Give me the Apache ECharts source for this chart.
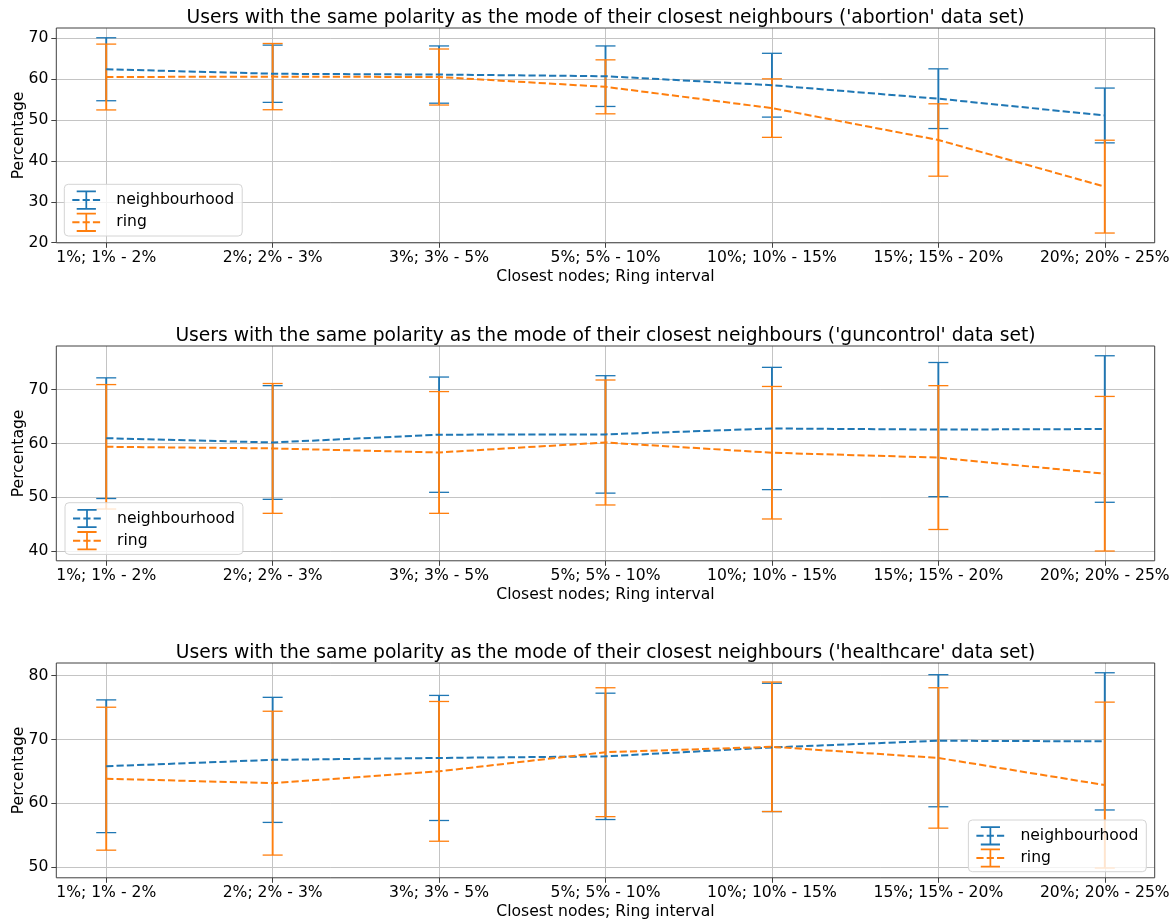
<!DOCTYPE html>
<html><head><meta charset="utf-8">
<script src="https://cdn.jsdelivr.net/npm/echarts@6/dist/echarts.min.js"></script>
<style>html,body{margin:0;padding:0;background:#fff}#c{width:1176px;height:921px}</style>
</head><body><div id="c"></div>
<script>
// ---- data ----
const categories = ['1%; 1% - 2%', '2%; 2% - 3%', '3%; 3% - 5%', '5%; 5% - 10%', '10%; 10% - 15%', '15%; 15% - 20%', '20%; 20% - 25%'];
const xTickValues = [0, 1, 2, 3, 4, 5, 6];

const abortionNbMean   = [62.4, 61.3, 61.1, 60.7, 58.5, 55.2, 51.1];
const abortionNbErr    = [7.7, 7.0, 7.0, 7.4, 7.8, 7.3, 6.7];
const abortionRingMean = [60.5, 60.6, 60.5, 58.1, 52.9, 45.1, 33.7];
const abortionRingErr  = [8.05, 8.1, 6.85, 6.6, 7.15, 8.85, 11.35];
const abortionYTicks   = [20, 30, 40, 50, 60, 70];

const gunNbMean   = [61.0, 60.2, 61.65, 61.7, 62.8, 62.6, 62.7];
const gunNbErr    = [11.2, 10.55, 10.7, 10.9, 11.35, 12.45, 13.6];
const gunRingMean = [59.4, 59.1, 58.35, 60.2, 58.3, 57.4, 54.4];
const gunRingErr  = [11.55, 12.05, 11.3, 11.6, 12.3, 13.35, 14.35];
const gunYTicks   = [40, 50, 60, 70];

const healthNbMean   = [65.8, 66.8, 67.1, 67.35, 68.75, 69.8, 69.7];
const healthNbErr    = [10.4, 9.8, 9.8, 9.9, 10.05, 10.35, 10.75];
const healthRingMean = [63.85, 63.15, 65.0, 68.0, 68.85, 67.1, 62.85];
const healthRingErr  = [11.2, 11.27, 10.95, 10.1, 10.15, 11.0, 13.0];
const healthYTicks   = [50, 60, 70, 80];

const titles = [
  "Users with the same polarity as the mode of their closest neighbours ('abortion' data set)",
  "Users with the same polarity as the mode of their closest neighbours ('guncontrol' data set)",
  "Users with the same polarity as the mode of their closest neighbours ('healthcare' data set)"
];
const seriesNames = ['neighbourhood', 'ring'];

// ---- styling / layout ----
const FONT = 'DejaVu Sans';
const FS = 15.6;
const BLUE = '#1f77b4', ORANGE = '#ff7f0e';
const GRID_C = '#c4c4c4', SPINE_C = '#404040';
const ERR_ICON = 'path://M0,0H20V1.4H0Z M9.1,0H10.9V15H9.1Z M0,13.6H20V15H0Z';

const panels = [
  {nbM: abortionNbMean, nbE: abortionNbErr, rgM: abortionRingMean, rgE: abortionRingErr, yTicks: abortionYTicks,
   top: 28, titleTop: 9, legend: {left: 64.3, top: 184.3}},
  {nbM: gunNbMean, nbE: gunNbErr, rgM: gunRingMean, rgE: gunRingErr, yTicks: gunYTicks,
   top: 346, titleTop: 327, legend: {left: 65, top: 502.7}},
  {nbM: healthNbMean, nbE: healthNbErr, rgM: healthRingMean, rgE: healthRingErr, yTicks: healthYTicks,
   top: 663, titleTop: 644, legend: {right: 29.7, top: 820}}
];
const PLOT_H = 214.8, PLOT_L = 56.3, PLOT_R = 21.3;

const option = {animation: false, backgroundColor: '#fff', title: [], grid: [], xAxis: [], yAxis: [], legend: [], series: []};

function errSeries(name, color, means, errs, i) {
  return {
    name: name, type: 'custom', xAxisIndex: i, yAxisIndex: i, z: 3, silent: true,
    encode: {x: 0, y: 1},
    data: means.map((m, k) => [k, m, errs[k]]),
    renderItem: function (params, api) {
      const x = api.value(0), m = api.value(1), e = api.value(2);
      const t = api.coord([x, m + e]), b = api.coord([x, m - e]);
      const hw = 10;
      return {type: 'group', children: [
        {type: 'line', shape: {x1: t[0], y1: t[1], x2: b[0], y2: b[1]}, style: {stroke: color, lineWidth: 1.9}},
        {type: 'line', shape: {x1: t[0] - hw, y1: t[1], x2: t[0] + hw, y2: t[1]}, style: {stroke: color, lineWidth: 1.3}},
        {type: 'line', shape: {x1: b[0] - hw, y1: b[1], x2: b[0] + hw, y2: b[1]}, style: {stroke: color, lineWidth: 1.3}}
      ]};
    }
  };
}
function lineSeries(name, color, means, i) {
  return {
    name: name, type: 'line', xAxisIndex: i, yAxisIndex: i, z: 3,
    data: means.map((m, k) => [k, m]),
    showSymbol: false, symbol: ERR_ICON, symbolSize: 16,
    lineStyle: {color: color, width: 2, type: [7.2, 3.1]},
    itemStyle: {color: color},
    emphasis: {disabled: true}, silent: true
  };
}

panels.forEach((p, i) => {
  const lows = p.nbM.map((m, k) => m - p.nbE[k]).concat(p.rgM.map((m, k) => m - p.rgE[k]));
  const highs = p.nbM.map((m, k) => m + p.nbE[k]).concat(p.rgM.map((m, k) => m + p.rgE[k]));
  const lo = Math.min(...lows), hi = Math.max(...highs), pad = 0.05 * (hi - lo);
  const xPad = 0.05 * (categories.length - 1);

  option.title.push({
    text: titles[i], left: PLOT_L + (1176 - PLOT_L - PLOT_R) / 2, textAlign: 'center', top: p.titleTop, padding: 0,
    textStyle: {fontFamily: FONT, fontSize: 18.7, fontWeight: 'normal', color: '#000'}
  });
  option.grid.push({
    left: PLOT_L, right: PLOT_R, top: p.top, height: PLOT_H, show: true, z: 5,
    outerBoundsMode: 'none', containLabel: false,
    backgroundColor: 'transparent', borderColor: SPINE_C, borderWidth: 1
  });
  option.xAxis.push({
    type: 'value', gridIndex: i, min: -xPad, max: categories.length - 1 + xPad, minInterval: 1, maxInterval: 1,
    axisLine: {show: false, onZero: false},
    axisTick: {show: true, length: 5, lineStyle: {color: SPINE_C, width: 1}, customValues: xTickValues},
    axisLabel: {customValues: xTickValues, formatter: v => categories[Math.round(v)] || '', margin: 7.5,
      color: '#000', fontSize: FS, fontFamily: FONT},
    splitLine: {show: true, lineStyle: {color: GRID_C, width: 1}},
    name: 'Closest nodes; Ring interval', nameLocation: 'middle', nameGap: 26,
    nameTextStyle: {color: '#000', fontSize: FS, fontFamily: FONT}
  });
  option.yAxis.push({
    type: 'value', gridIndex: i, min: lo - pad, max: hi + pad, minInterval: 10, maxInterval: 10,
    axisLine: {show: false, onZero: false},
    axisTick: {show: true, length: 5, lineStyle: {color: SPINE_C, width: 1}, customValues: p.yTicks},
    axisLabel: {customValues: p.yTicks, margin: 8, color: '#000', fontSize: FS, fontFamily: FONT,
      formatter: v => String(Math.round(v))},
    splitLine: {show: true, lineStyle: {color: GRID_C, width: 1}},
    name: 'Percentage', nameLocation: 'middle', nameGap: 29, nameMoveOverlap: false,
    nameTextStyle: {color: '#000', fontSize: FS, fontFamily: FONT}
  });
  option.legend.push(Object.assign({
    orient: 'vertical', z: 6,
    data: seriesNames,
    itemWidth: 28, itemHeight: 24, itemGap: 3,
    padding: [6.2, 8, 4.1, 7],
    backgroundColor: 'rgba(255,255,255,0.8)', borderColor: '#d4d4d4', borderWidth: 1, borderRadius: 4,
    textStyle: {fontFamily: FONT, fontSize: FS, color: '#000', padding: [0, 0, 0, 11]},
    selectedMode: false
  }, p.legend));

  option.series.push(lineSeries(seriesNames[0], BLUE, p.nbM, i));
  option.series.push(errSeries(seriesNames[0], BLUE, p.nbM, p.nbE, i));
  option.series.push(lineSeries(seriesNames[1], ORANGE, p.rgM, i));
  option.series.push(errSeries(seriesNames[1], ORANGE, p.rgM, p.rgE, i));
});

const chart = echarts.init(document.getElementById('c'), null, {renderer: 'canvas'});
chart.setOption(option);
</script>
</body></html>
